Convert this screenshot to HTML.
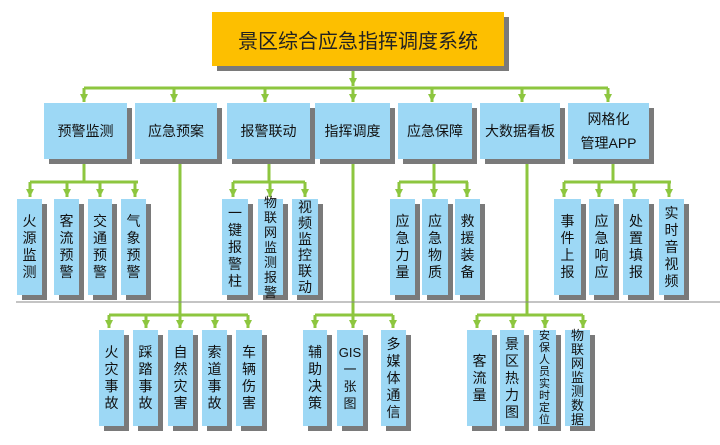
<!DOCTYPE html>
<html><head><meta charset="utf-8"><style>
body{margin:0;width:720px;height:445px;background:#fff;position:relative;overflow:hidden;font-family:"Liberation Sans","Noto Sans CJK SC",sans-serif}
.b{position:absolute;background:#9dd8f5;box-shadow:5px 5px 0 #7a7a7a;display:flex;align-items:center;justify-content:center;text-align:center;color:#111;font-size:14px;line-height:17px}
.t{position:absolute;left:212px;top:12px;width:292px;height:54px;background:#fdbf00;box-shadow:5px 5px 0 #7a7a7a;display:flex;align-items:center;justify-content:center;font-size:20px;color:#222}
svg{position:absolute;left:0;top:0}
</style></head><body>
<svg width="720" height="445">
<defs><marker id="a" markerWidth="8" markerHeight="8" refX="4" refY="6" orient="auto" markerUnits="userSpaceOnUse"><path d="M0,0 L8,0 L4,7 z" fill="#8dc63f" transform="rotate(-90 4 4)"/></marker>
<marker id="d" viewBox="0 0 10 10" refX="5" refY="10" markerWidth="8" markerHeight="8" markerUnits="userSpaceOnUse"><path d="M0,0 L10,0 L5,10 z" fill="#8dc63f"/></marker></defs>
<g stroke="#8dc63f" stroke-width="3" fill="none">
<line x1="353" y1="67" x2="353" y2="86" marker-end="url(#d)"/>
<line x1="84" y1="88" x2="608" y2="88"/>
<line x1="84" y1="88" x2="84" y2="102" marker-end="url(#d)"/>
<line x1="174" y1="88" x2="174" y2="102" marker-end="url(#d)"/>
<line x1="265" y1="88" x2="265" y2="102" marker-end="url(#d)"/>
<line x1="353" y1="88" x2="353" y2="102" marker-end="url(#d)"/>
<line x1="432" y1="88" x2="432" y2="102" marker-end="url(#d)"/>
<line x1="522" y1="88" x2="522" y2="102" marker-end="url(#d)"/>
<line x1="608" y1="88" x2="608" y2="102" marker-end="url(#d)"/>
<!-- group 1 -->
<line x1="84" y1="163" x2="84" y2="182"/>
<line x1="30" y1="182" x2="138" y2="182"/>
<line x1="30" y1="182" x2="30" y2="197" marker-end="url(#d)"/>
<line x1="67" y1="182" x2="67" y2="197" marker-end="url(#d)"/>
<line x1="100" y1="182" x2="100" y2="197" marker-end="url(#d)"/>
<line x1="135" y1="182" x2="135" y2="197" marker-end="url(#d)"/>
<!-- group 报警 -->
<line x1="269" y1="163" x2="269" y2="182"/>
<line x1="233" y1="182" x2="305" y2="182"/>
<line x1="233" y1="182" x2="233" y2="197" marker-end="url(#d)"/>
<line x1="270" y1="182" x2="270" y2="197" marker-end="url(#d)"/>
<line x1="305" y1="182" x2="305" y2="197" marker-end="url(#d)"/>
<!-- group 保障 -->
<line x1="434" y1="163" x2="434" y2="182"/>
<line x1="399" y1="182" x2="468" y2="182"/>
<line x1="399" y1="182" x2="399" y2="197" marker-end="url(#d)"/>
<line x1="434" y1="182" x2="434" y2="197" marker-end="url(#d)"/>
<line x1="467" y1="182" x2="467" y2="197" marker-end="url(#d)"/>
<!-- group 网格 -->
<line x1="613" y1="163" x2="613" y2="182"/>
<line x1="564" y1="182" x2="671" y2="182"/>
<line x1="564" y1="182" x2="564" y2="197" marker-end="url(#d)"/>
<line x1="599" y1="182" x2="599" y2="197" marker-end="url(#d)"/>
<line x1="634" y1="182" x2="634" y2="197" marker-end="url(#d)"/>
<line x1="669" y1="182" x2="669" y2="197" marker-end="url(#d)"/>
<!-- long verticals -->
<line x1="180" y1="163" x2="180" y2="315"/>
<line x1="353" y1="163" x2="353" y2="315"/>
<line x1="527" y1="163" x2="527" y2="315"/>
<!-- level3 A -->
<line x1="109" y1="315" x2="248" y2="315"/>
<line x1="109" y1="315" x2="109" y2="328" marker-end="url(#d)"/>
<line x1="146" y1="315" x2="146" y2="328" marker-end="url(#d)"/>
<line x1="180" y1="315" x2="180" y2="328" marker-end="url(#d)"/>
<line x1="215" y1="315" x2="215" y2="328" marker-end="url(#d)"/>
<line x1="248" y1="315" x2="248" y2="328" marker-end="url(#d)"/>
<!-- B -->
<line x1="315" y1="315" x2="393" y2="315"/>
<line x1="315" y1="315" x2="315" y2="328" marker-end="url(#d)"/>
<line x1="353" y1="315" x2="353" y2="328" marker-end="url(#d)"/>
<line x1="393" y1="315" x2="393" y2="328" marker-end="url(#d)"/>
<!-- C -->
<line x1="477" y1="315" x2="583" y2="315"/>
<line x1="477" y1="315" x2="477" y2="328" marker-end="url(#d)"/>
<line x1="513" y1="315" x2="513" y2="328" marker-end="url(#d)"/>
<line x1="545" y1="315" x2="545" y2="328" marker-end="url(#d)"/>
<line x1="583" y1="315" x2="583" y2="328" marker-end="url(#d)"/>
</g>
<line x1="16" y1="302" x2="720" y2="302" stroke="#888" stroke-width="1"/>
</svg>
<div class="t">景区综合应急指挥调度系统</div>
<div class="b" style="left:44px;top:103px;width:83px;height:56px">预警监测</div>
<div class="b" style="left:135px;top:103px;width:82px;height:56px">应急预案</div>
<div class="b" style="left:227px;top:103px;width:83px;height:56px">报警联动</div>
<div class="b" style="left:315px;top:103px;width:75px;height:56px">指挥调度</div>
<div class="b" style="left:398px;top:103px;width:74px;height:56px">应急保障</div>
<div class="b" style="left:480px;top:103px;width:80px;height:56px">大数据看板</div>
<div class="b" style="left:568px;top:103px;width:81px;height:56px;line-height:24px">网格化<br>管理APP</div>

<div class="b" style="left:17px;top:199px;width:25px;height:96px">火<br>源<br>监<br>测</div>
<div class="b" style="left:54px;top:199px;width:25px;height:96px">客<br>流<br>预<br>警</div>
<div class="b" style="left:88px;top:199px;width:24px;height:96px">交<br>通<br>预<br>警</div>
<div class="b" style="left:121px;top:199px;width:25px;height:96px">气<br>象<br>预<br>警</div>
<div class="b" style="left:222px;top:199px;width:26px;height:96px">一<br>键<br>报<br>警<br>柱</div>
<div class="b" style="left:258px;top:199px;width:25px;height:96px;font-size:13px;line-height:15px">物<br>联<br>网<br>监<br>测<br>报<br>警</div>
<div class="b" style="left:292px;top:199px;width:26px;height:96px;line-height:16px">视<br>频<br>监<br>控<br>联<br>动</div>
<div class="b" style="left:390px;top:199px;width:25px;height:96px">应<br>急<br>力<br>量</div>
<div class="b" style="left:422px;top:199px;width:26px;height:96px">应<br>急<br>物<br>质</div>
<div class="b" style="left:455px;top:199px;width:25px;height:96px">救<br>援<br>装<br>备</div>
<div class="b" style="left:554px;top:199px;width:27px;height:96px">事<br>件<br>上<br>报</div>
<div class="b" style="left:589px;top:199px;width:25px;height:96px">应<br>急<br>响<br>应</div>
<div class="b" style="left:623px;top:199px;width:26px;height:96px">处<br>置<br>填<br>报</div>
<div class="b" style="left:659px;top:199px;width:25px;height:96px">实<br>时<br>音<br>视<br>频</div>

<div class="b" style="left:99px;top:330px;width:25px;height:96px">火<br>灾<br>事<br>故</div>
<div class="b" style="left:133px;top:330px;width:25px;height:96px">踩<br>踏<br>事<br>故</div>
<div class="b" style="left:168px;top:330px;width:25px;height:96px">自<br>然<br>灾<br>害</div>
<div class="b" style="left:202px;top:330px;width:25px;height:96px">索<br>道<br>事<br>故</div>
<div class="b" style="left:236px;top:330px;width:26px;height:96px">车<br>辆<br>伤<br>害</div>
<div class="b" style="left:303px;top:330px;width:24px;height:96px">辅<br>助<br>决<br>策</div>
<div class="b" style="left:337px;top:330px;width:26px;height:96px;font-size:13px">GIS<br>一<br>张<br>图</div>
<div class="b" style="left:381px;top:330px;width:25px;height:96px">多<br>媒<br>体<br>通<br>信</div>
<div class="b" style="left:467px;top:330px;width:25px;height:96px">客<br>流<br>量</div>
<div class="b" style="left:500px;top:330px;width:24px;height:96px">景<br>区<br>热<br>力<br>图</div>
<div class="b" style="left:533px;top:330px;width:23px;height:96px;font-size:11px;line-height:12px">安<br>保<br>人<br>员<br>实<br>时<br>定<br>位</div>
<div class="b" style="left:565px;top:330px;width:25px;height:96px;font-size:13px;line-height:14px">物<br>联<br>网<br>监<br>测<br>数<br>据</div>
</body></html>
